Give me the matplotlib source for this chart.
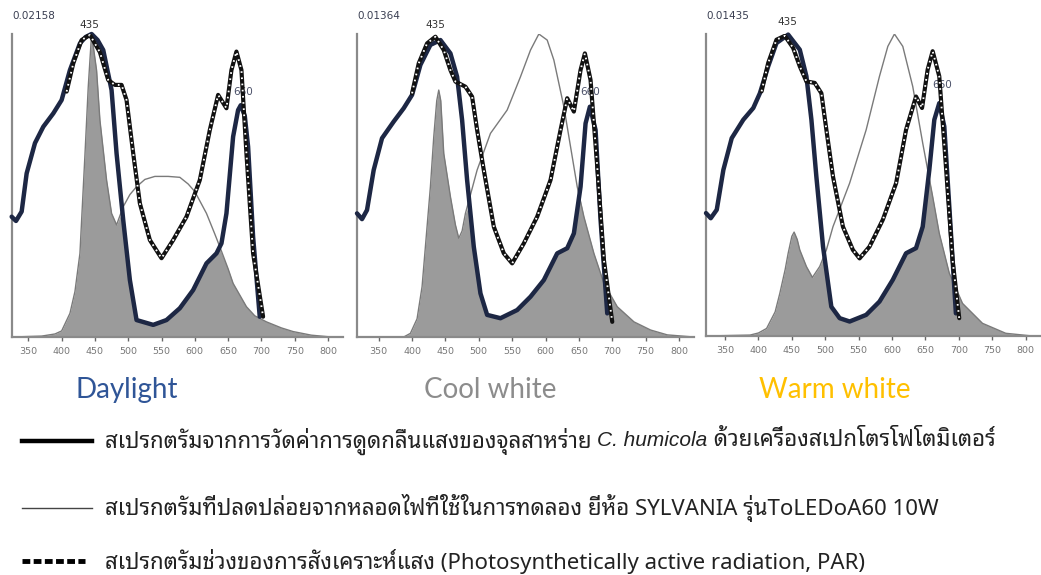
import matplotlib
matplotlib.use("Agg")
import matplotlib.pyplot as plt

# ---- data (normalised to each panel's maximum) ----

panel_names = ["Daylight", "Cool white", "Warm white"]
panel_maxima = ["0.02158", "0.01364", "0.01435"]
blue_peak = 435
red_peak = 660

# absorption spectrum of the algae, one trace per panel
abs_wl_day = [325, 331.5, 340, 347.5, 360, 372.5, 387.5, 400, 412.5, 427.5, 436, 445, 454, 462.5, 475, 482.5,
              492.5, 502.5, 512.5, 537.5, 557.5, 577.5, 597.5, 617.5, 632.5, 640, 647.5, 657.5, 665, 669,
              675, 680, 687.5, 697.5]
abs_day = [0.397, 0.383, 0.414, 0.54, 0.64, 0.694, 0.738, 0.782, 0.881, 0.969, 0.99, 1.0, 0.98, 0.947, 0.815,
           0.606, 0.386, 0.188, 0.056, 0.040, 0.056, 0.095, 0.155, 0.243, 0.276, 0.309, 0.408, 0.661, 0.749,
           0.765, 0.73, 0.628, 0.331, 0.067]

abs_wl_cool = [317.5, 325, 332.5, 342.5, 355, 372.5, 387.5, 400, 412.5, 427.5, 442.5, 457.5, 467.5, 475,
               482.5, 492.5, 502.5, 512.5, 532.5, 557.5, 577.5, 597.5, 617.5, 632.5, 642.5, 652.5, 660,
               666.5, 675, 682.5, 692.5]
abs_cool = [0.408, 0.389, 0.419, 0.551, 0.656, 0.711, 0.755, 0.799, 0.898, 0.964, 0.98, 0.936, 0.859,
            0.716, 0.518, 0.298, 0.144, 0.073, 0.062, 0.089, 0.133, 0.188, 0.276, 0.293, 0.342, 0.496,
            0.705, 0.76, 0.683, 0.386, 0.078]

abs_wl_warm = [321.5, 328.6, 337.6, 347.5, 360, 377.3, 392.3, 402.2, 414.6, 427, 444.5, 461.9, 471.8, 479.3,
               486.7, 496.7, 509.1, 521.6, 536.5, 561.3, 581.2, 601.1, 621, 635.9, 645.9, 655.8, 663.3,
               670.7, 678.2, 685.7, 695.6]
abs_warm = [0.407, 0.39, 0.418, 0.55, 0.655, 0.716, 0.755, 0.804, 0.893, 0.97, 0.998, 0.948, 0.86, 0.716,
            0.528, 0.296, 0.097, 0.059, 0.048, 0.07, 0.114, 0.186, 0.274, 0.291, 0.362, 0.55, 0.716, 0.771,
            0.694, 0.429, 0.075]

# photosynthetically active radiation
par_wl_day = [407.5, 417.5, 430, 442.5, 457.5, 470, 480, 490, 497.5, 507.5, 517.5, 532.5, 550, 567.5, 587.5,
              607.5, 622.5, 635, 647.5, 655, 662.5, 670, 677.5, 687.5, 702.5]
par_day = [0.81, 0.903, 0.98, 0.997, 0.94, 0.848, 0.832, 0.832, 0.782, 0.606, 0.441, 0.32, 0.26, 0.32, 0.397,
           0.518, 0.683, 0.799, 0.755, 0.881, 0.942, 0.881, 0.606, 0.276, 0.067]

par_wl_cool = [400, 410, 422.5, 435, 447.5, 457.5, 465, 480, 490, 497.5, 507.5, 522.5, 537.5, 550, 567.5,
               587.5, 607.5, 622.5, 632.5, 642.5, 652.5, 659, 667.5, 677.5, 687.5, 700]
par_cool = [0.804, 0.903, 0.969, 0.991, 0.947, 0.881, 0.843, 0.826, 0.793, 0.683, 0.551, 0.364, 0.276,
            0.243, 0.309, 0.397, 0.518, 0.683, 0.788, 0.744, 0.881, 0.936, 0.848, 0.562, 0.254, 0.05]

par_wl_warm = [404.7, 414.6, 427, 439.5, 451.9, 461.9, 471.8, 484.3, 494.2, 501.7, 511.6, 526.5, 541.4,
               551.4, 566.3, 586.2, 606.1, 621, 635.9, 644.9, 653.3, 660.8, 670.7, 680.7, 690.6, 700.6]
par_warm = [0.81, 0.904, 0.981, 0.994, 0.954, 0.893, 0.843, 0.838, 0.804, 0.683, 0.528, 0.362, 0.285,
            0.257, 0.296, 0.385, 0.506, 0.683, 0.793, 0.755, 0.882, 0.943, 0.86, 0.561, 0.252, 0.059]

# emission spectrum of the lamp
lamp_wl_day = [326, 370, 390, 400, 412.5, 420, 427.5, 435, 440, 445, 452.5, 457.5, 467.5, 475, 482.5, 492.5,
               502.5, 512.5, 525, 540, 560, 577.5, 590, 600, 617.5, 630, 637.5, 650, 657.5, 677.5, 690,
               707.5, 730, 747.5, 775, 800, 822]
lamp_day = [0, 0.003, 0.01, 0.02, 0.078, 0.15, 0.276, 0.6, 0.826, 1.0, 0.88, 0.716, 0.518, 0.408, 0.37,
            0.43, 0.47, 0.496, 0.52, 0.53, 0.53, 0.527, 0.505, 0.48, 0.408, 0.34, 0.298, 0.225, 0.177, 0.1,
            0.07, 0.05, 0.03, 0.018, 0.006, 0.001, 0]

lamp_wl_cool = [317.5, 387.5, 397.5, 407.5, 415, 427.5, 432.5, 437, 440, 443, 447.5, 457.5, 465, 470, 475,
                480, 497.5, 517.5, 542.5, 562.5, 577.5, 590, 602.5, 612.5, 627.5, 637.5, 647.5, 657.5,
                672.5, 687.5, 707.5, 732.5, 757.5, 782.5, 822]
lamp_cool = [0, 0, 0.012, 0.06, 0.166, 0.496, 0.66, 0.78, 0.815, 0.78, 0.606, 0.463, 0.37, 0.326, 0.35,
             0.408, 0.551, 0.672, 0.749, 0.859, 0.947, 1.0, 0.98, 0.914, 0.76, 0.628, 0.496, 0.397, 0.276,
             0.177, 0.1, 0.05, 0.023, 0.007, 0]

lamp_wl_warm = [321.5, 387.3, 400, 412.2, 425, 432, 440, 444.5, 450, 453.4, 458, 461.9, 471.8, 480.8,
                491.7, 501.7, 511.6, 536.5, 561.3, 581.2, 593.7, 603.6, 616.1, 631, 645.9, 660.8, 670.7,
                685.7, 705.5, 735.4, 770.2, 810, 821]
lamp_warm = [0, 0.003, 0.01, 0.025, 0.08, 0.141, 0.22, 0.274, 0.33, 0.344, 0.32, 0.285, 0.23, 0.194, 0.23,
             0.285, 0.362, 0.506, 0.683, 0.86, 0.959, 1.0, 0.959, 0.826, 0.639, 0.462, 0.34, 0.208, 0.108,
             0.042, 0.009, 0, 0]

# light actually absorbed (area under both spectra)
fill_wl_day = [326, 370, 390, 400, 412.5, 420, 427.5, 435, 440, 445, 452.5, 457.5, 467.5, 475, 482.5, 488,
               492.5, 502.5, 512.5, 537.5, 557.5, 577.5, 597.5, 617.5, 632.5, 637.5, 650, 657.5, 677.5, 690,
               707.5, 730, 747.5, 775, 800, 822]
fill_day = [0, 0.003, 0.01, 0.02, 0.078, 0.15, 0.276, 0.6, 0.826, 1.0, 0.88, 0.716, 0.518, 0.408, 0.37,
            0.40, 0.386, 0.188, 0.056, 0.040, 0.056, 0.095, 0.155, 0.243, 0.276, 0.29, 0.225, 0.177, 0.1,
            0.07, 0.05, 0.03, 0.018, 0.006, 0.001, 0]

fill_wl_cool = [317.5, 387.5, 397.5, 407.5, 415, 427.5, 432.5, 437, 440, 443, 447.5, 457.5, 465, 470, 475,
                480, 486, 492.5, 502.5, 512.5, 532.5, 557.5, 577.5, 597.5, 617.5, 632.5, 642.5, 650.5,
                657.5, 672.5, 687.5, 707.5, 732.5, 757.5, 782.5, 822]
fill_cool = [0, 0, 0.012, 0.06, 0.166, 0.496, 0.66, 0.78, 0.815, 0.78, 0.606, 0.463, 0.37, 0.326, 0.35,
             0.408, 0.44, 0.298, 0.144, 0.073, 0.062, 0.089, 0.133, 0.188, 0.276, 0.293, 0.342, 0.47, 0.397,
             0.276, 0.177, 0.1, 0.05, 0.023, 0.007, 0]

fill_wl_warm = [321.5, 387.3, 400, 412.2, 425, 432, 440, 444.5, 450, 453.4, 458, 461.9, 471.8, 480.8,
                491.7, 499, 509.1, 521.6, 536.5, 561.3, 581.2, 601.1, 621, 635.9, 645.9, 655, 660.8, 670.7,
                685.7, 705.5, 735.4, 770.2, 810, 821]
fill_warm = [0, 0.003, 0.01, 0.025, 0.08, 0.141, 0.22, 0.274, 0.33, 0.344, 0.32, 0.285, 0.23, 0.194, 0.23,
             0.27, 0.097, 0.059, 0.048, 0.07, 0.114, 0.186, 0.274, 0.291, 0.362, 0.53, 0.462, 0.34, 0.208,
             0.108, 0.042, 0.009, 0, 0]

xticks = [350, 400, 450, 500, 550, 600, 650, 700, 750, 800]

legend_labels = [
    ["สเปรกตรัมจากการวัดค่าการดูดกลืนแสงของจุลสาหร่าย ", "C. humicola", " ด้วยเครื่องสเปกโตรโฟโตมิเตอร์"],
    ["สเปรกตรัมที่ปลดปล่อยจากหลอดไฟที่ใช้ในการทดลอง ยี่ห้อ SYLVANIA รุ่นToLEDoA60 10W"],
    ["สเปรกตรัมช่วงของการสังเคราะห์แสง (Photosynthetically active radiation, PAR)"],
]

# ---- styling / layout ----
W, H = 1041, 575
navy = "#1d2744"
fill_grey = "#9b9b9b"
lamp_grey = "#7a7a7a"
name_colors = ["#2f5597", "#8c8c8c", "#ffc000"]
thai_font = ["Noto Sans Thai Looped", "Noto Sans", "DejaVu Sans"]

# left/right/bottom/top in pixels and x limits of each panel
boxes = [(12, 343, 337, 34), (357, 694, 337, 34), (706, 1040, 336, 34)]
xlims = [(325.5, 822.5), (317.5, 822.5), (321.5, 821.5)]
name_x = [127, 490, 835]

abs_data = [(abs_wl_day, abs_day), (abs_wl_cool, abs_cool), (abs_wl_warm, abs_warm)]
par_data = [(par_wl_day, par_day), (par_wl_cool, par_cool), (par_wl_warm, par_warm)]
lamp_data = [(lamp_wl_day, lamp_day), (lamp_wl_cool, lamp_cool), (lamp_wl_warm, lamp_warm)]
fill_data = [(fill_wl_day, fill_day), (fill_wl_cool, fill_cool), (fill_wl_warm, fill_warm)]


def draw_par(ax, x, y, lw=3.0):
    # black band with small white flecks, like a hatched printer line
    ax.plot(x, y, color="#111111", lw=lw, solid_joinstyle="round", solid_capstyle="round", zorder=4)
    ax.plot(x, y, color="white", lw=lw * 0.45, dashes=(0.9, 2.4), zorder=5)


fig = plt.figure(figsize=(W / 100, H / 100), dpi=100)

for i in range(3):
    l, r, b, t = boxes[i]
    ax = fig.add_axes([l / W, 1 - b / H, (r - l) / W, (b - t) / H])
    ax.set_xlim(*xlims[i])
    ax.set_ylim(0, 1.0)

    fx, fy = fill_data[i]
    ax.fill_between(fx, fy, 0, color=fill_grey, lw=0, zorder=1)
    lx, ly = lamp_data[i]
    ax.plot(lx, ly, color=lamp_grey, lw=1.0, zorder=2)
    ax_x, ax_y = abs_data[i]
    ax.plot(ax_x, ax_y, color=navy, lw=3.2, solid_joinstyle="round", solid_capstyle="round",
            zorder=3, clip_on=False)
    px, py = par_data[i]
    draw_par(ax, px, py)

    for s in ["top", "right"]:
        ax.spines[s].set_visible(False)
    ax.spines["left"].set_color("#8a8a8a")
    ax.spines["left"].set_linewidth(1.6)
    ax.spines["bottom"].set_color("#8a8a8a")
    ax.spines["bottom"].set_linewidth(1.6)
    ax.set_yticks([])
    ax.set_xticks(xticks)
    ax.tick_params(axis="x", length=3, width=1, color="#666666", labelsize=6.8,
                   labelcolor="#777777", pad=4)

    ax.text(0, 1.06, panel_maxima[i], transform=ax.transAxes, fontsize=7.5,
            color="#3a3f52", ha="left", va="center", clip_on=False)
    ax.text(blue_peak + [7, 0, 8][i], [1.03, 1.03, 1.04][i], str(blue_peak), fontsize=7.5,
            color="#333333", ha="center", va="center", clip_on=False)
    ax.text(red_peak + [12, 7, 15][i], [0.81, 0.81, 0.83][i], str(red_peak), fontsize=7.5,
            color="#4a5068", ha="center", va="center", clip_on=False)

    fig.text(name_x[i] / W, 1 - 390 / H, panel_names[i], fontsize=20, color=name_colors[i],
             family="Lato", ha="center", va="center")

# legend rows
rows_y = [441, 508, 561]
line_styles = ["thick", "thin", "par"]
renderer = fig.canvas.get_renderer()
for row, y, kind in zip(legend_labels, rows_y, line_styles):
    fy = 1 - y / H
    if kind == "thick":
        fig.add_artist(plt.Line2D([22 / W, 92 / W], [fy, fy], color="black", lw=3.2))
    elif kind == "thin":
        fig.add_artist(plt.Line2D([22 / W, 92 / W], [fy, fy], color="#444444", lw=1.0))
    else:
        fig.add_artist(plt.Line2D([22 / W, 85 / W], [fy, fy], color="black", lw=3.5,
                                  dashes=(1.6, 0.7)))
    x = 105
    for piece in row:
        if piece.strip() == "C. humicola":
            txt = fig.text(x / W, fy, piece, fontsize=15, family="Liberation Sans", style="italic",
                           color="#222222", ha="left", va="center")
        else:
            txt = fig.text(x / W, fy, piece, fontsize=16, family=thai_font, color="#222222",
                           ha="left", va="center")
        x += txt.get_window_extent(renderer).width

fig.savefig("out.png", dpi=100)
